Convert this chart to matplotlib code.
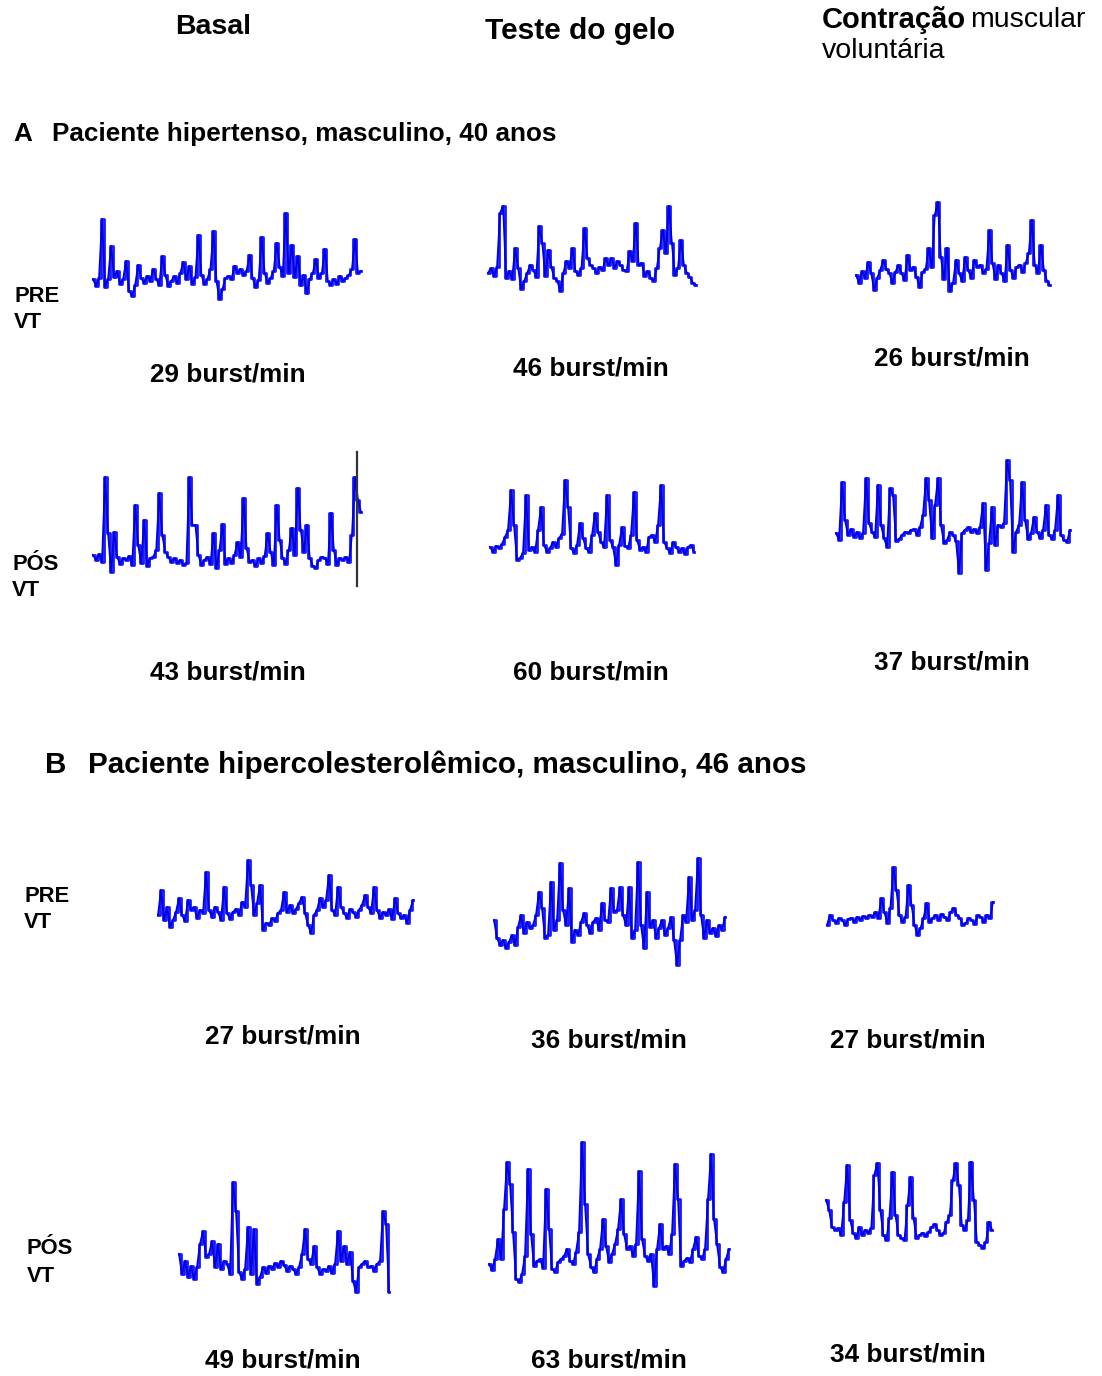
import numpy as np
import matplotlib
matplotlib.use("Agg")
import matplotlib.pyplot as plt

plt.rcParams['font.family'] = ['Liberation Sans', 'DejaVu Sans']

# burst rates per row (basal, ice test, muscle contraction)
rates_a_pre = [29, 46, 26]
rates_a_pos = [43, 60, 37]
rates_b_pre = [27, 36, 27]
rates_b_pos = [49, 63, 34]

# MSNA traces, amplitude in px above the resting level (up = positive)
a_pre_basal = [2, -5, 3, 62, -6, 2, 35, 4, 10, -3, 2, 20, -10, -15, -4, 16, 3, -2, 5, 0,
               12, 2, -4, 25, 6, -5, 0, 5, -2, 8, 19, 2, 15, -3, 4, 46, 6, -3, 2, 12,
               50, 0, -18, -8, 3, 5, 2, 15, 8, 12, 6, 10, 26, 3, -6, 1, 44, 8, -2, 3,
               10, 38, 14, 5, 68, 8, 36, 4, 25, -4, 6, -12, 2, 8, 22, 3, 8, 32, 0, -4,
               2, -3, 5, 0, 3, 6, 12, 42, 8, 10]
a_pre_gelo = [0, 5, -3, 6, 60, 67, -5, 2, -6, 25, 5, -16, -8, 0, 8, 3, -4, 47, 30, -3,
              23, 6, -5, -8, -18, 0, 12, 5, 25, 2, -2, 5, 45, 15, 8, 5, 0, 6, 3, 15,
              8, 15, 5, 12, 8, 3, 2, 22, 12, 50, 8, 10, -3, 2, -5, -8, 5, 25, 43, 20,
              67, 30, -2, 5, 33, 8, 0, -4, -10, -12]
a_pre_contr = [0, -8, 4, -3, 13, 2, -15, -3, 5, 15, 6, 2, -8, 3, 10, 2, -5, 20, 5, 8,
               -2, -12, 3, 6, 27, 8, 60, 73, 18, -4, 27, -16, -8, 15, 2, -6, 18, 5, -3, 15,
               8, 10, 2, 6, 45, 12, -4, 10, 2, -6, 30, 5, -3, 8, 10, 3, 12, 22, 55, 10,
               2, 30, 5, -6, -10]
a_pos_basal = [5, 0, 6, -2, 83, 27, -12, 28, 3, -4, 2, 0, 4, -5, 55, 15, -3, 40, -6, 2,
               3, 10, 67, 25, 8, 3, -2, 2, -3, 0, -5, -3, 83, 35, 35, 5, -5, 0, 3, -4,
               27, -8, 10, 36, -4, 2, -3, 5, 18, 3, 62, 12, -2, 0, -6, 2, -3, 4, 27, 8,
               -5, 55, 20, 2, -4, 10, 32, 5, 72, 30, 8, 35, 2, -6, -8, 0, 3, 2, -4, 47,
               10, -5, 2, 0, 3, -2, 25, 83, 60, 48]
a_pos_gelo = [3, -2, 4, 2, 6, 13, 20, 60, 25, -10, -8, -3, 55, 0, 3, -2, 20, 43, 5, -2,
              2, 8, 3, 12, 16, 70, 43, 2, -3, 5, 27, 12, 2, -2, 15, 37, 18, 8, 3, 55,
              10, 3, -15, 5, 23, 4, 2, 15, 58, 10, 0, 3, -2, 13, 15, 8, 25, 65, 8, 2,
              -3, 8, 3, -2, 2, -4, 3, 5, -2]
a_pos_contr = [2, -5, 53, 15, 0, 6, -2, 3, -3, 2, 57, 12, 3, -2, 50, 10, -3, -12, 47, 40,
               -6, -4, 0, 3, 2, 5, 6, 0, 8, 20, 57, 35, -3, 30, 57, 10, -8, -5, 3, 0,
               -6, -38, 2, 5, 8, 3, 6, 2, 8, 32, -35, -8, 28, -10, 10, 8, 12, 75, 55, -17,
               3, 10, 53, 15, -4, 2, 18, 3, -3, 5, 30, 0, -4, 5, 40, 0, -5, -7, 5]
b_pre_basal = [0, 25, -5, 8, -12, -5, 3, 17, 0, -6, 15, 5, 8, -3, 5, 2, 43, 5, -2, 8,
               3, -5, 28, 2, -4, 3, 6, 0, 13, 8, 55, 30, 0, 12, 30, -15, -8, -10, -3, -6,
               2, 5, 23, 3, 10, 2, 6, 12, 18, 2, -10, -18, 0, 5, 17, 8, 15, 40, 5, 0,
               28, 8, 2, -3, 6, 3, -2, 5, 10, 20, 8, 2, 28, 5, -3, 3, 0, 6, -4, 17,
               2, -3, 0, -8, 5, 15]
b_pre_gelo = [10, -8, -15, -10, -18, -12, -5, -15, 3, 15, -3, 8, 2, 5, 15, 38, 22, -8, -5, 48,
              0, 10, 67, 20, 5, 42, -12, 0, -5, 8, 17, 5, -3, 8, 12, 0, 27, 10, 8, 42,
              18, 20, 43, 15, 5, 43, -8, 0, 68, 5, -18, 38, 3, 10, -8, 2, 10, -5, 2, 13,
              -10, -35, -10, 15, 8, 53, 10, 20, 72, 15, -8, 10, -3, 2, -6, 5, 0, 13]
b_pre_contr = [-5, 5, 0, -3, 2, 0, -5, 1, 2, -2, 3, 0, 4, 2, 5, 3, 8, 2, 22, 8,
               -3, 12, 53, 30, 5, -2, 3, 35, 15, -5, -15, -8, 2, 17, -2, 2, 5, 0, 6, 3,
               0, 8, 12, 5, 2, -5, -3, 2, 0, -4, 5, 3, -2, 5, 2, 18]
b_pos_basal = [15, -5, 8, -8, 3, -10, 2, 25, 38, 12, 15, 28, 2, 25, 0, 8, 5, -5, 87, 58,
               -3, -10, 0, 42, -5, 40, -15, -8, 2, -4, 3, 0, 6, 2, 8, 4, -2, 3, 0, -5,
               2, 15, 40, 10, 5, 23, 2, -5, 0, -2, 3, -4, 5, 38, 8, 23, 5, 17, -12, -23,
               2, 5, 8, 2, 3, -2, 5, 8, 58, 45, -23]
b_pos_gelo = [0, -6, 5, 25, 5, 55, 102, 80, 32, -15, -18, -10, 8, 95, 30, -2, 3, 5, -4, 75,
              35, -5, -8, 2, 5, 8, 15, 3, 0, 12, 32, 122, 60, 10, -3, -8, 5, 15, 45, 18,
              2, 10, 20, 35, 65, 30, 15, 18, 8, 20, 93, 25, 8, 3, 10, -22, 15, 40, 15, 18,
              10, 30, 100, 65, -2, 3, 6, 2, 15, 27, 8, 5, 15, 65, 110, 45, 20, -3, -8, 5,
              15]
b_pos_contr = [30, 20, 3, 0, 2, -5, 28, 65, 10, -3, -8, 3, -5, 0, -3, 2, 55, 67, 20, -5,
               -10, 12, 58, 15, -5, -8, -10, 25, 53, 12, -8, -5, -3, -6, -2, 3, 6, 0, -5, -3,
               8, 15, 50, 67, 45, 5, 0, 10, 68, 30, -12, -15, -18, -12, 8, 0]

# where each trace sits on the page: (data, x start, x end, resting level)
traces = [
    (a_pre_basal, 93, 361, 281),
    (a_pre_gelo, 488, 696, 273),
    (a_pre_contr, 856, 1050, 275),
    (a_pos_basal, 93, 361, 560),
    (a_pos_gelo, 490, 694, 550),
    (a_pos_contr, 836, 1070, 535),
    (b_pre_basal, 158, 413, 915),
    (b_pre_gelo, 494, 725, 930),
    (b_pre_contr, 827, 993, 920),
    (b_pos_basal, 179, 389, 1269),
    (b_pos_gelo, 489, 729, 1264),
    (b_pos_contr, 826, 992, 1230),
]

fig = plt.figure(figsize=(11.02, 13.76), dpi=100)
ax = fig.add_axes([0, 0, 1, 1])
ax.set_xlim(0, 1102)
ax.set_ylim(1376, 0)
ax.axis('off')

for vals, x0, x1, base in traces:
    x = np.linspace(x0, x1, len(vals))
    y = base - np.asarray(vals, dtype=float)
    # stepped record plus the straight joins, gives the dense band look
    ax.plot(x, y, color='#1a1aff', lw=2.0, drawstyle='steps-mid')
    ax.plot(x, y, color='#0000e6', lw=1.3)

# marker line at the end of the post-training basal trace
ax.plot([357, 357], [452, 586], color='#333333', lw=1.6)

# column headers
ax.text(213, 27, 'Basal', fontsize=20.5, fontweight='bold', ha='center', va='center')
ax.text(580, 31, 'Teste do gelo', fontsize=21.5, fontweight='bold', ha='center', va='center')
ax.text(822, 20, 'Contração', fontsize=21, fontweight='bold', ha='left', va='center')
ax.text(970, 20, 'muscular', fontsize=20.5, ha='left', va='center')
ax.text(822, 51, 'voluntária', fontsize=20.5, ha='left', va='center')

# patient headings
ax.text(13, 134, 'A', fontsize=18.8, fontweight='bold', ha='left', va='center')
ax.text(52, 134, 'Paciente hipertenso, masculino, 40 anos', fontsize=18.8,
        fontweight='bold', ha='left', va='center')
ax.text(45, 765, 'B', fontsize=21.3, fontweight='bold', ha='left', va='center')
ax.text(88, 765, 'Paciente hipercolesterolêmico, masculino, 46 anos', fontsize=21.3,
        fontweight='bold', ha='left', va='center')

# row labels
row_labels = [('PRE', 14, 297, 323), ('PÓS', 12, 564, 591),
              ('PRE', 24, 896, 923), ('PÓS', 27, 1249, 1277)]
for lab, lx, y1, y2 in row_labels:
    ax.text(lx, y1, lab, fontsize=15.8, fontweight='bold', ha='left', va='center')
    ax.text(lx, y2, 'VT', fontsize=15.8, fontweight='bold', ha='left', va='center')

# burst rate captions
rate_pos = [
    (rates_a_pre, [(228, 374), (591, 369), (952, 359)]),
    (rates_a_pos, [(228, 672), (591, 672), (952, 663)]),
    (rates_b_pre, [(283, 1036), (609, 1041), (908, 1041)]),
    (rates_b_pos, [(283, 1360), (609, 1360), (908, 1355)]),
]
for rates, spots in rate_pos:
    for r, (cx, cy) in zip(rates, spots):
        ax.text(cx, cy, f'{r} burst/min', fontsize=18.8, fontweight='bold',
                ha='center', va='center')

fig.savefig('out.png', dpi=100)
